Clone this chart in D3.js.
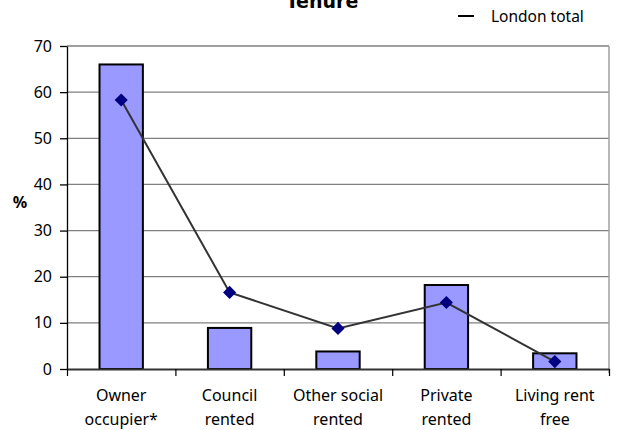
<!DOCTYPE html>
<html><head><meta charset="utf-8">
<script src="https://cdn.jsdelivr.net/npm/d3@7"></script>
<style>html,body{margin:0;padding:0;background:#fff;}svg{display:block;font-family:"Noto Sans","Open Sans",sans-serif;}</style>
</head><body><div id="chart"></div>
<script>
const categories = [["Owner","occupier*"],["Council","rented"],["Other social","rented"],["Private","rented"],["Living rent","free"]];
const barValues = [66.0, 8.9, 3.8, 18.2, 3.4];
const londonTotal = [58.3, 16.6, 8.8, 14.4, 1.6];
const yTicks = [0,10,20,30,40,50,60,70];
const title = "Tenure";
const legendLabel = "London total";
const yLabel = "%";

const W = 621, H = 430;
const m = {left:67, right:12, top:46, bottom:61};
const svg = d3.select("#chart").append("svg").attr("width",W).attr("height",H);
const iw = W - m.left - m.right, ih = H - m.top - m.bottom;
const g = svg.append("g").attr("transform",`translate(${m.left},${m.top})`);
const keys = categories.map((c,i)=>i);
const x = d3.scaleBand().domain(keys).range([0,iw]).paddingInner(0).paddingOuter(0);
const y = d3.scaleLinear().domain([0,70]).range([ih,0]);

// gridlines
g.selectAll(".grid").data(yTicks.filter(t=>t>0)).enter().append("line")
 .attr("x1",0).attr("x2",iw).attr("y1",d=>y(d)).attr("y2",d=>y(d))
 .attr("stroke","#808080").attr("stroke-width",1.3);
// right border
g.append("line").attr("x1",iw).attr("x2",iw).attr("y1",0).attr("y2",ih+4)
 .attr("stroke","#a0a0a0").attr("stroke-width",1.5);

// bars
const bw = x.bandwidth()*0.4;
g.selectAll(".bar").data(barValues).enter().append("rect")
 .attr("x",(d,i)=>x(i)+x.bandwidth()/2-bw/2).attr("y",d=>y(d))
 .attr("width",bw).attr("height",d=>ih-y(d))
 .attr("fill","#9999ff").attr("stroke","#000").attr("stroke-width",2);

// y axis
const yAxis = g.append("g").call(d3.axisLeft(y).tickValues(yTicks).tickSize(7).tickSizeOuter(0).tickPadding(8));
yAxis.select(".domain").attr("stroke","#000").attr("stroke-width",1.3);
yAxis.selectAll(".tick line").attr("stroke","#000").attr("stroke-width",1.3);
yAxis.selectAll("text").attr("font-size",16).attr("fill","#000").attr("font-family","'Noto Sans','Open Sans',sans-serif");

// x axis
const xb = d3.scaleLinear().domain([0,5]).range([0,iw]);
const xAxis = g.append("g").attr("transform",`translate(0,${ih})`)
 .call(d3.axisBottom(xb).tickValues([0,1,2,3,4,5]).tickSize(7).tickSizeOuter(0).tickFormat(""));
xAxis.select(".domain").attr("stroke","#333").attr("stroke-width",2);
xAxis.selectAll(".tick line").attr("stroke","#000").attr("stroke-width",1.2);

// x labels
const lab = g.selectAll(".xl").data(categories).enter().append("text")
 .attr("x",(d,i)=>x(i)+x.bandwidth()/2).attr("y",ih+32)
 .attr("text-anchor","middle").attr("font-size",16).attr("fill","#000");
lab.each(function(d){
  const t = d3.select(this);
  d.forEach((s,j)=>t.append("tspan").attr("x",t.attr("x")).attr("dy",j===0?0:24).text(s));
});

// line
const line = d3.line().x((d,i)=>x(i)+x.bandwidth()/2).y(d=>y(d));
g.append("path").datum(londonTotal).attr("d",line).attr("fill","none")
 .attr("stroke","#333").attr("stroke-width",2);
g.selectAll(".pt").data(londonTotal).enter().append("path")
 .attr("d",d3.symbol().type(d3.symbolDiamond2).size(110))
 .attr("transform",(d,i)=>`translate(${x(i)+x.bandwidth()/2},${y(d)})`)
 .attr("fill","#000080");

// y label
svg.append("text").attr("x",20).attr("y",208).attr("text-anchor","middle")
 .attr("font-size",16).attr("font-weight","bold").text(yLabel);

// title
svg.append("text").attr("x",322).attr("y",8).attr("text-anchor","middle")
 .attr("font-size",19).attr("font-weight","bold").attr("font-family","'DejaVu Sans',sans-serif").text(title);

// legend
svg.append("line").attr("x1",458).attr("x2",474).attr("y1",16).attr("y2",16)
 .attr("stroke","#000").attr("stroke-width",2);
svg.append("text").attr("x",491).attr("y",22).attr("font-size",15.5).text(legendLabel);
</script></body></html>
